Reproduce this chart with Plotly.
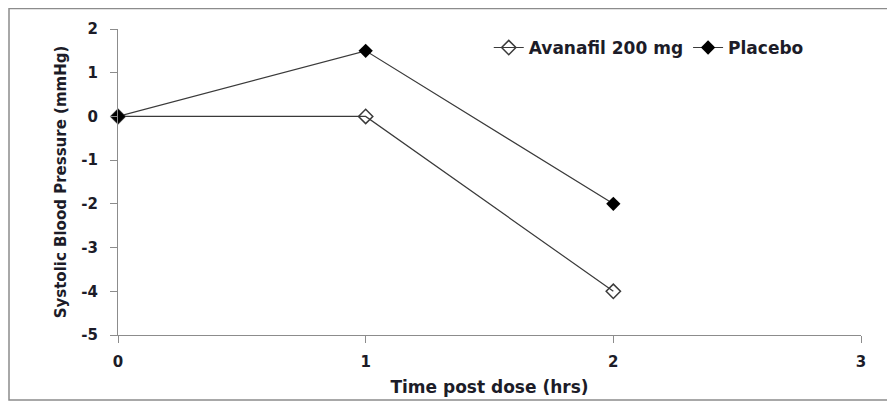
import plotly.graph_objects as go

time_hrs = [0, 1, 2]
avanafil = [0, 0, -4]
placebo = [0, 1.5, -2]
x_ticks = [0, 1, 2, 3]
y_ticks = [-5, -4, -3, -2, -1, 0, 1, 2]
y_tick_labels = ["-5", "-4", "-3", "-2", "-1", "0", "1", "2"]

FONT = "DejaVu Sans"
TXT = "#1c1c28"
fig = go.Figure()
fig.add_trace(go.Scatter(
    x=time_hrs, y=avanafil, mode="lines+markers", name="Avanafil 200 mg",
    line=dict(color="#3a3a3a", width=1.2),
    marker=dict(symbol="diamond-open", size=11, color="#3a3a3a", line=dict(width=1.5)),
))
fig.add_trace(go.Scatter(
    x=time_hrs, y=placebo, mode="lines+markers", name="Placebo",
    line=dict(color="#3a3a3a", width=1.2),
    marker=dict(symbol="diamond", size=11, color="#000000"),
))

axis_common = dict(
    showgrid=False, zeroline=False, showline=True, linecolor="#8c8c8c", linewidth=1.3,
    ticks="outside", ticklen=7, tickcolor="#8c8c8c", tickwidth=1.3,
    tickfont=dict(family=FONT, size=15, color=TXT, weight="bold"),
)
fig.update_xaxes(range=[0, 3], tickvals=x_ticks, ticklabelstandoff=6, **axis_common,
                 title=dict(text="Time post dose (hrs)", standoff=10,
                            font=dict(family=FONT, size=17, color=TXT, weight="bold")))
fig.update_yaxes(range=[-5, 2], tickvals=y_ticks, ticktext=y_tick_labels,
                 ticklabelstandoff=9, **axis_common,
                 title=dict(text="Systolic Blood Pressure (mmHg)", standoff=10,
                            font=dict(family=FONT, size=15, color=TXT, weight="bold")))
fig.update_traces(cliponaxis=False)

fig.add_shape(type="rect", xref="paper", yref="paper",
              x0=-0.1467, x1=1.0363, y0=-0.2124, y1=1.067,
              line=dict(color="#8c8c8c", width=1.5))

fig.update_layout(
    width=887, height=401,
    margin=dict(l=110, r=34, t=21, b=74, autoexpand=False),
    plot_bgcolor="white", paper_bgcolor="white",
    showlegend=True,
    legend=dict(orientation="h", x=0.499, y=0.938, xanchor="left", yanchor="middle",
                font=dict(family=FONT, size=17, color=TXT, weight="bold"),
                bgcolor="rgba(0,0,0,0)", tracegroupgap=0, itemwidth=30),
)
fig.write_html("out.html")
